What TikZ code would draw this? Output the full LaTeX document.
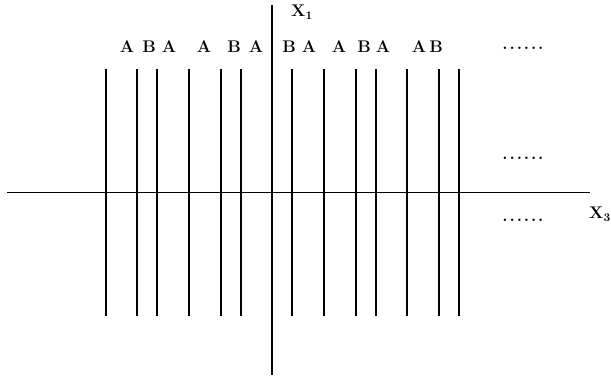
\documentclass[tikz,border=0pt]{standalone}
\usepackage{tikz}
\usetikzlibrary{calc}
\newcommand{\wdots}{.\kern1.6pt.\kern1.6pt.\kern1.6pt.\kern1.6pt.\kern1.6pt.}
\begin{document}
\begin{tikzpicture}[x=0.03cm, y=-0.03cm, line width=0.9pt,
    lab/.style={font=\Large\bfseries, inner sep=0pt},
    axlab/.style={font=\Large\bfseries, inner sep=0pt},
    dotsrow/.style={font=\Large\bfseries, inner sep=0pt}]
    \useasboundingbox (0,0) rectangle (611,381);
    % axes
    \coordinate (W) at (7,192);
    \coordinate (E) at (590,192);
    \coordinate (N) at (272,5);
    \coordinate (S) at (272,375);
    \draw[line width=0.7pt] (W) -- (E);
    \draw (N) -- (S);
    \node[axlab] (X1) at (302,12) {X$_{\mathbf 1}$};
    \node[axlab] (X3) at (600,214) {X$_{\mathbf 3}$};
    % layer boundaries
    \foreach \x in {106,137,157,189,221,241,292,324,356,376,407,439,459} {
        \draw (\x,69) -- (\x,316);
    }
    % layer names
    \foreach \x/\t [count=\i] in {127/A,149/B,169/A,204/A,234/B,256/A,289/B,309/A,339/A,364/B,383/A,419/A,436/B} {
        \node[lab] (L\i) at (\x,47) {\t};
    }
    \node[dotsrow] (D1) at (523,48) {\wdots};
    \node[dotsrow] (D2) at (523,158) {\wdots};
    \node[dotsrow] (D3) at (523,220) {\wdots};
\end{tikzpicture}
\end{document}
